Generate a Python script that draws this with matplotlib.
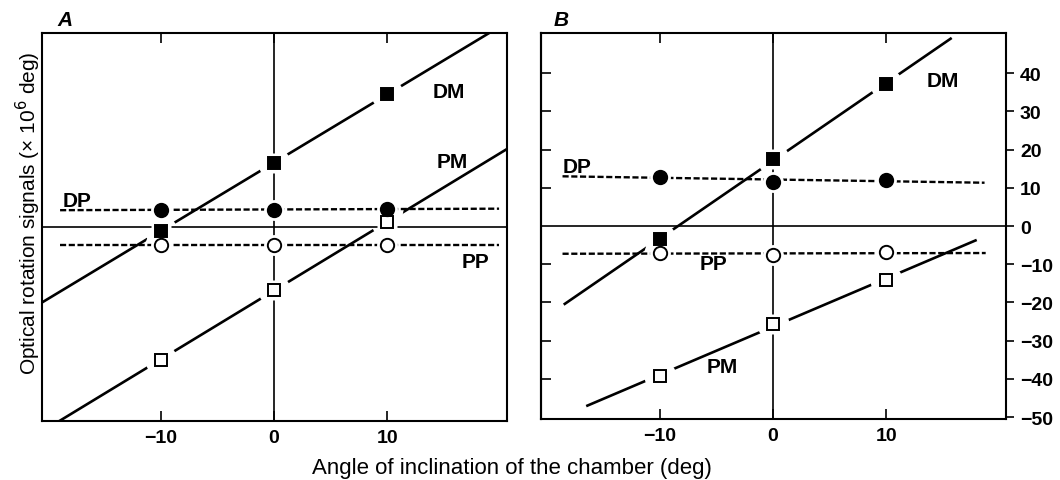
import numpy as np
import matplotlib.pyplot as plt

plt.rcParams['font.family'] = ['Liberation Sans', 'DejaVu Sans']

angles = [-10, 0, 10]

# panel A
dm_a = [-1.0, 16.7, 34.5]
pm_a = [-34.5, -16.5, 1.3]
dp_a = [4.5, 4.5, 4.7]
pp_a = [-4.6, -4.6, -4.6]

# panel B
dm_b = [-3.5, 17.5, 37.2]
pm_b = [-39.3, -25.6, -14.1]
dp_b = [12.9, 11.6, 12.0]
pp_b = [-7.0, -7.6, -6.9]

# x extent of each fitted line
span_a = {'DM': (-20.5, 20.5), 'PM': (-20.5, 20.5), 'DP': (-18.9, 19.9), 'PP': (-18.9, 19.9)}
span_b = {'DM': (-18.4, 15.7), 'PM': (-16.4, 17.9), 'DP': (-18.6, 18.7), 'PP': (-18.6, 18.8)}

right_ticks = [40, 30, 20, 10, 0, -10, -20, -30, -40, -50]
left_ticks_b = [40, 30, 20, 10, -10, -20, -30, -40]

styles = {
    'DM': dict(marker='s', mfc='black', ls='-'),
    'PM': dict(marker='s', mfc='white', ls='-'),
    'DP': dict(marker='o', mfc='black', ls='--'),
    'PP': dict(marker='o', mfc='white', ls='--'),
}

fig = plt.figure(figsize=(10.6, 4.81), dpi=100)
ax_a = fig.add_axes([0.0396, 0.1227, 0.4387, 0.8066])
ax_b = fig.add_axes([0.5104, 0.1268, 0.4387, 0.8025])


def draw_panel(ax, series, spans):
    ax.set_xlim(-20.5, 20.6)
    ax.set_ylim(-50.5, 50.5)
    # solid fits sit lowest so the wide white rings cut only them
    ax.axvline(0, color='black', lw=1.2, zorder=2)
    ax.axhline(0, color='black', lw=1.2, zorder=2)
    for name, vals in series.items():
        st = styles[name]
        k, b = np.polyfit(angles, vals, 1)
        x0, x1 = spans[name]
        xs = np.array([x0, x1])
        if st['ls'] == '--':
            ax.plot(xs, k * xs + b, color='black', lw=1.7, dashes=(2.6, 1.1), zorder=2)
        else:
            ax.plot(xs, k * xs + b, color='black', lw=1.9, zorder=1)
        ax.plot(angles, vals, ls='none', marker='o', ms=23,
                mfc='white', mec='none', zorder=1.5)
        ax.plot(angles, vals, ls='none', marker=st['marker'], ms=15,
                mfc='white', mec='none', zorder=2.5)
    for name, vals in series.items():
        st = styles[name]
        ms = 9.2 if st['marker'] == 's' else 9.6
        ax.plot(angles, vals, ls='none', marker=st['marker'], ms=ms,
                mfc=st['mfc'], mec='black', mew=1.4, zorder=4)
    for s in ax.spines.values():
        s.set_linewidth(1.5)
        s.set_zorder(5)
    ax.set_xticks([-10, 0, 10])
    ax.set_xticklabels(['\u221210', '0', '10'], fontsize=14, fontweight='bold')
    ax.tick_params(axis='x', direction='in', top=True, bottom=True,
                   length=7, width=1.2, pad=6)


draw_panel(ax_a, {'DM': dm_a, 'PM': pm_a, 'DP': dp_a, 'PP': pp_a}, span_a)
ax_a.set_yticks([])

draw_panel(ax_b, {'DM': dm_b, 'PM': pm_b, 'DP': dp_b, 'PP': pp_b}, span_b)
ax_b.yaxis.tick_right()
ax_b.set_yticks(right_ticks)
ax_b.set_yticklabels([str(t).replace('-', '\u2212') for t in right_ticks],
                     fontsize=14, fontweight='bold')
ax_b.tick_params(axis='y', direction='out', length=6, width=1.2, pad=4)
sec = ax_b.secondary_yaxis('left')
sec.set_yticks(left_ticks_b)
sec.tick_params(axis='y', direction='in', length=7, width=1.2, labelleft=False)
sec.spines['left'].set_linewidth(1.5)

lab = dict(fontsize=15, fontweight='bold')
ax_a.text(14.0, 33.8, 'DM', **lab)
ax_a.text(14.4, 15.7, 'PM', **lab)
ax_a.text(-18.7, 5.4, 'DP', **lab)
ax_a.text(16.6, -10.3, 'PP', **lab)

ax_b.text(13.6, 36.6, 'DM', **lab)
ax_b.text(-18.6, 14.1, 'DP', **lab)
ax_b.text(-6.5, -11.3, 'PP', **lab)
ax_b.text(-5.9, -38.2, 'PM', **lab)

fig.text(0.054, 0.945, 'A', fontsize=15, fontweight='bold', style='italic')
fig.text(0.522, 0.945, 'B', fontsize=15, fontweight='bold', style='italic')

fig.text(0.4825, 0.027, 'Angle of inclination of the chamber (deg)',
         ha='center', va='center', fontsize=16)
fig.text(0.027, 0.557, 'Optical rotation signals (\u00d7 10$^6$ deg)',
         ha='center', va='center', rotation=90, fontsize=15)

fig.savefig('out.png', dpi=100)
